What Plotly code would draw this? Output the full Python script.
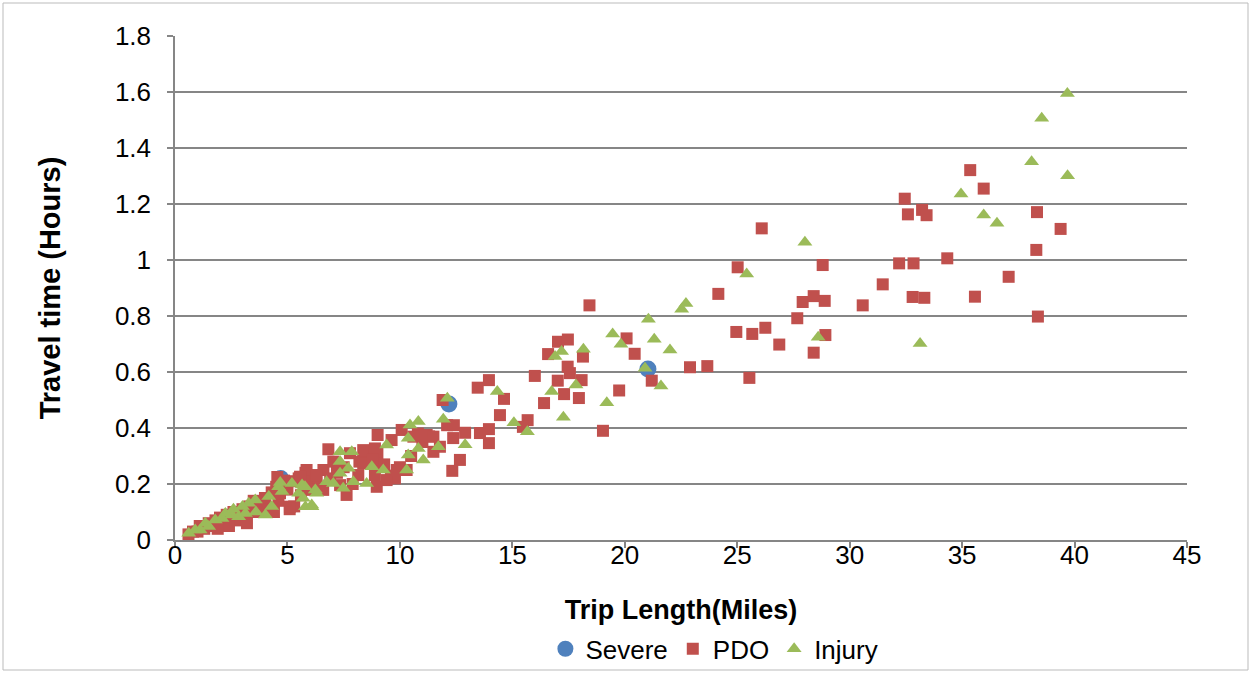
import plotly.graph_objects as go

# ---- data ----
severe_x = [12.18, 21.03, 4.70]
severe_y = [0.486, 0.611, 0.220]

pdo_x = [
    0.6, 0.8, 1.0, 1.1, 1.3, 1.5, 1.6, 1.8, 2.0, 2.1, 2.3, 2.5, 2.6, 2.8, 3.0, 3.1, 3.3, 3.5, 3.6, 3.8,
    4.0, 4.1, 4.3, 4.5, 4.6, 4.8, 5.0, 5.2, 5.3, 5.5, 5.6, 5.8, 6.0, 6.2, 6.4, 6.6, 5.1, 4.4, 3.2, 2.4,
    1.9, 6.9, 7.2, 7.5, 7.9, 8.2, 8.6, 9.0, 9.3, 9.6, 10.0, 10.5, 11.0, 11.3, 10.8, 4.55, 4.85,
    6.82, 9.01, 9.63, 10.08, 10.6, 11.19, 11.49, 11.78, 11.49, 8.37, 8.89, 7.78, 7.04, 8.37, 8.97,
    8.15, 8.89, 9.78, 10.3, 5.85, 6.3, 5.7, 6.59, 7.63, 8.97, 7.34, 9.41, 6.0, 5.11, 5.56, 4.67,
    9.86, 8.8,
    11.9, 13.46, 13.96, 14.63, 14.45, 12.1, 12.4, 12.37, 12.9, 13.56, 13.96, 13.96, 15.68, 15.47,
    16.0, 16.41, 16.59, 17.03, 17.47, 17.46, 17.56, 17.02, 17.3, 17.96, 18.08, 18.14, 19.03, 19.75,
    18.43, 12.67, 12.33,
    26.09, 25.02, 28.8, 24.16, 27.91, 28.4, 28.89, 27.67, 24.96, 25.67, 26.25, 26.87, 28.92, 28.4,
    20.08, 20.44, 21.2, 22.9, 23.67, 25.54,
    35.36, 35.96, 32.45, 32.59, 33.22, 33.42, 38.33, 39.38, 38.3, 32.2, 32.84, 34.34, 31.47, 37.07,
    30.58, 32.8, 33.32, 35.57, 38.37,
]
pdo_y = [
    0.02, 0.03, 0.03, 0.05, 0.04, 0.06, 0.05, 0.07, 0.08, 0.06, 0.09, 0.08, 0.10, 0.07, 0.11, 0.09, 0.12, 0.14, 0.10, 0.13,
    0.15, 0.11, 0.17, 0.19, 0.14, 0.20, 0.18, 0.21, 0.12, 0.22, 0.16, 0.24, 0.21, 0.23, 0.19, 0.25, 0.11, 0.10, 0.06, 0.05,
    0.04, 0.22, 0.24, 0.26, 0.20, 0.28, 0.30, 0.31, 0.27, 0.23, 0.26, 0.30, 0.35, 0.37, 0.38, 0.225, 0.212,
    0.324, 0.375, 0.357, 0.393, 0.369, 0.375, 0.369, 0.333, 0.315, 0.321, 0.327, 0.31, 0.28, 0.274, 0.274,
    0.232, 0.232, 0.22, 0.25, 0.25, 0.232, 0.208, 0.179, 0.161, 0.19, 0.196, 0.214, 0.179, 0.119, 0.226, 0.167,
    0.25, 0.286,
    0.50, 0.544, 0.571, 0.504, 0.446, 0.41, 0.41, 0.364, 0.383, 0.382, 0.396, 0.346, 0.428, 0.404,
    0.586, 0.489, 0.664, 0.708, 0.716, 0.619, 0.596, 0.569, 0.521, 0.507, 0.571, 0.655, 0.39, 0.534,
    0.838, 0.286, 0.247,
    1.113, 0.974, 0.982, 0.879, 0.85, 0.871, 0.854, 0.792, 0.743, 0.736, 0.758, 0.698, 0.732, 0.669,
    0.72, 0.665, 0.569, 0.617, 0.621, 0.579,
    1.321, 1.255, 1.219, 1.163, 1.179, 1.16, 1.171, 1.111, 1.036, 0.988, 0.988, 1.006, 0.913, 0.94,
    0.838, 0.868, 0.865, 0.869, 0.798,
]

injury_x = [
    38.09, 39.69, 34.95, 35.96, 36.55, 28.01, 25.42, 28.6, 33.13, 39.68, 38.54,
    22.72, 22.53, 21.05, 19.46, 19.83, 21.31, 22.01, 20.9, 21.61, 19.2,
    12.11, 11.93, 14.33, 15.07, 15.67, 16.75, 16.9, 17.19, 17.83, 18.16, 17.27, 12.9,
    10.82, 10.45, 10.37, 9.41, 10.82, 11.71, 10.37, 11.04, 10.3,
    7.34, 7.86, 7.34, 7.71, 8.75, 9.26, 7.93, 8.52, 7.48, 7.04, 6.74, 6.3, 5.78, 5.7, 6.08, 7.34,
    4.61, 4.17, 5.2, 5.65, 6.24, 5.5, 5.8, 6.09, 4.76, 3.57, 3.28, 4.02, 3.13, 2.53, 2.24,
    1.79, 1.35, 0.9, 0.61, 2.83, 2.09, 1.5, 1.12, 3.0, 2.6, 3.6, 4.3, 4.68,
]
injury_y = [
    1.351, 1.301, 1.236, 1.161, 1.131, 1.063, 0.95, 0.724, 0.702, 1.595, 1.506,
    0.845, 0.824, 0.788, 0.736, 0.699, 0.717, 0.679, 0.613, 0.55, 0.49,
    0.506, 0.431, 0.53, 0.419, 0.387, 0.53, 0.655, 0.673, 0.554, 0.681, 0.438, 0.34,
    0.423, 0.411, 0.363, 0.339, 0.327, 0.333, 0.304, 0.286, 0.25,
    0.315, 0.315, 0.28, 0.256, 0.262, 0.25, 0.208, 0.202, 0.185, 0.202, 0.208, 0.167, 0.19, 0.149, 0.125, 0.238,
    0.19, 0.155, 0.202, 0.196, 0.179, 0.167, 0.119, 0.119, 0.173, 0.143, 0.131, 0.089, 0.095, 0.089, 0.095,
    0.071, 0.06, 0.036, 0.024, 0.083, 0.077, 0.048, 0.036, 0.12, 0.11, 0.10, 0.12, 0.205,
]

FONT = "Liberation Sans, Arial, sans-serif"
GRID = "#868686"

fig = go.Figure()
fig.add_trace(go.Scatter(x=severe_x, y=severe_y, mode="markers", name="Severe",
                         marker=dict(symbol="circle", size=17, color="#4F81BD", line=dict(width=0))))
fig.add_trace(go.Scatter(x=pdo_x, y=pdo_y, mode="markers", name="PDO",
                         marker=dict(symbol="square", size=12, color="#C0504D", line=dict(width=0))))
fig.add_trace(go.Scatter(x=injury_x, y=injury_y, mode="markers", name="Injury",
                         marker=dict(symbol="triangle-up", size=13, color="#9BBB59", line=dict(width=0))))

fig.update_layout(
    width=1251, height=673,
    margin=dict(l=175, r=64, t=36, b=133, autoexpand=False),
    paper_bgcolor="white", plot_bgcolor="white",
    font=dict(family=FONT, size=26, color="black"),
    showlegend=True,
    legend=dict(orientation="h", x=0.533, y=-0.216, xanchor="center", yanchor="middle",
                font=dict(size=26), itemsizing="trace", traceorder="normal",
                bgcolor="rgba(0,0,0,0)"),
    xaxis=dict(range=[0, 45], dtick=5, tick0=0, showgrid=False, zeroline=False,
               showline=True, linecolor=GRID, linewidth=1.5,
               ticks="outside", ticklen=6, tickcolor=GRID, tickwidth=1.5,
               tickfont=dict(size=26), ticklabelstandoff=-15,
               title=dict(text="<b>Trip Length(Miles)</b>", font=dict(size=27), standoff=31)),
    yaxis=dict(range=[0, 1.8], dtick=0.2, tick0=0, showgrid=True, gridcolor=GRID, gridwidth=1.5,
               zeroline=False, showline=True, linecolor=GRID, linewidth=1.5,
               ticks="outside", ticklen=6, tickcolor=GRID, tickwidth=1.5,
               tickfont=dict(size=26), ticklabelstandoff=11,
               title=dict(text="<b>Travel time (Hours)</b>", font=dict(size=29), standoff=46)),
    shapes=[dict(type="rect", xref="paper", yref="paper",
                 x0=(3 - 175) / 1012, x1=(1248 - 175) / 1012,
                 y0=(540 - 670) / 504, y1=(540 - 3) / 504,
                 line=dict(color="#BBBBBB", width=1), fillcolor="rgba(0,0,0,0)", layer="below")],
)

fig.write_html("out.html", config={"displayModeBar": False},
               post_script="document.body.style.margin='0px';")
